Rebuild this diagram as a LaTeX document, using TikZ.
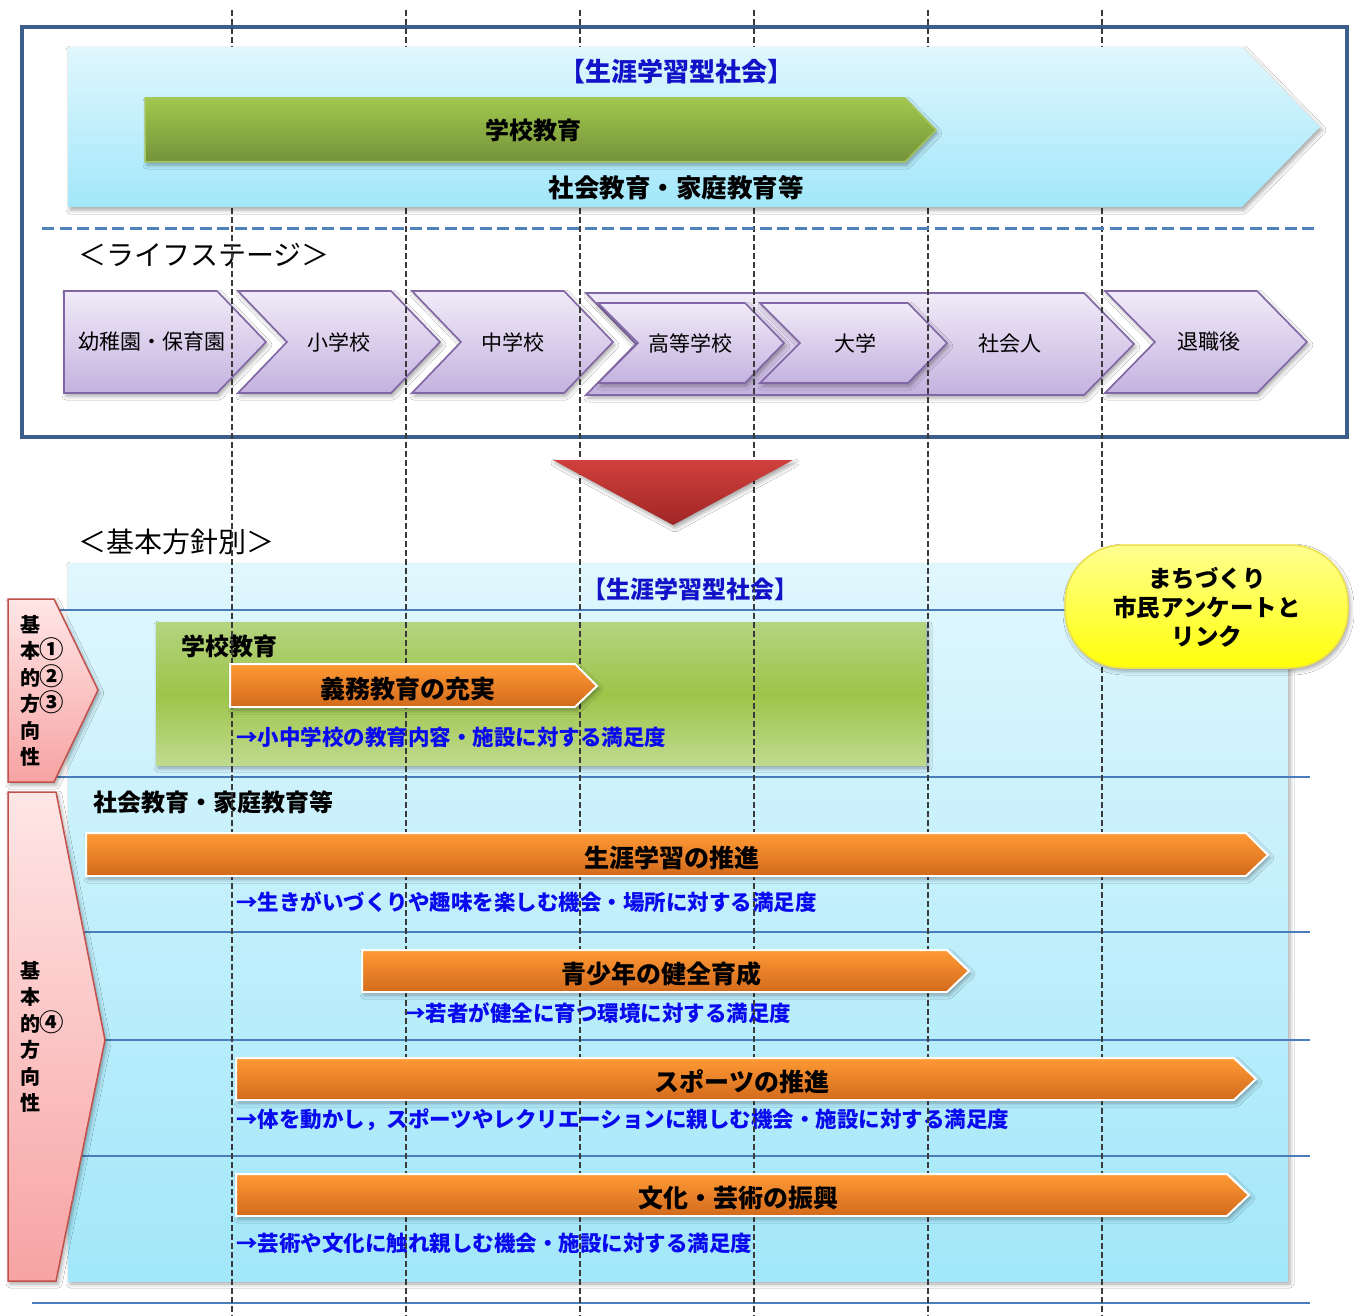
\documentclass[tikz,border=0pt]{standalone}
\usepackage{fontspec}
\newfontfamily\jp{Noto Sans CJK JP}
\usetikzlibrary{shadows,shadows.blur}
\newcommand\jfs[1]{\fontsize{#1}{#1}\selectfont}
\newcommand\cnum[1]{\scalebox{1.22}{#1}}
\definecolor{frameblue}{HTML}{3B5E8C}
\definecolor{lbT}{HTML}{E0F7FD}
\definecolor{lbB}{HTML}{A2E7FA}
\definecolor{grT}{HTML}{A2C84E}
\definecolor{grB}{HTML}{74923A}
\definecolor{grE}{HTML}{A6C65E}
\definecolor{gbT}{HTML}{B5D480}
\definecolor{gbM}{HTML}{9DC449}
\definecolor{gbB}{HTML}{C0DA8E}
\definecolor{puT}{HTML}{F0EBF8}
\definecolor{puB}{HTML}{C4B2DF}
\definecolor{puE}{HTML}{8066A4}
\definecolor{orT}{HTML}{FF9A35}
\definecolor{orB}{HTML}{D26A1C}
\definecolor{pkT}{HTML}{FFE6E6}
\definecolor{pkB}{HTML}{F7A3A3}
\definecolor{pkE}{HTML}{C4504C}
\definecolor{ylT}{HTML}{FFFF90}
\definecolor{ylB}{HTML}{FFFF0A}
\definecolor{ylE}{HTML}{EDE04A}
\definecolor{rdT}{HTML}{D0403C}
\definecolor{rdB}{HTML}{A02626}
\definecolor{lineblue}{HTML}{4A7EBB}
\definecolor{dashblue}{HTML}{4F81BD}
\definecolor{headblue}{HTML}{1212C8}
\definecolor{txtblue}{HTML}{0A0AEE}
\definecolor{vgray}{HTML}{3A3A3A}
\tikzset{
  base/.style={inner sep=0pt, outer sep=0pt},
  lifelbl/.style={base, font=\jp\jfs{21}},
  headlbl/.style={base, anchor=west, font=\jp\jfs{28}},
  boldlbl/.style={base, font=\jp\bfseries\jfs{24}},
  bluehead/.style={base, text=headblue, font=\jp\bfseries\jfs{24}},
  bluetxt/.style={base, anchor=west, text=txtblue, font=\jp\bfseries\jfs{21.5}},
  arrlbl/.style={base, font=\jp\bfseries\jfs{25}},
  pinklbl/.style={base, anchor=west, align=left, font=\jp\bfseries\fontsize{20}{26.5}\selectfont},
  yellbl/.style={base, align=center, font=\jp\bfseries\fontsize{23.5}{29}\selectfont},
  softshadow/.style={blur shadow={shadow xshift=2pt, shadow yshift=-3pt, shadow blur radius=4pt, shadow opacity=35}},
  purplearr/.style={top color=puT, bottom color=puB, draw=puE, line width=1.6pt, softshadow},
  orangearr/.style={top color=orT, bottom color=orB, draw=white, line width=2pt, softshadow},
  pinkarr/.style={top color=pkT, bottom color=pkB, draw=pkE, line width=1.5pt, softshadow},
  lbpanel/.style={top color=lbT, bottom color=lbB, softshadow},
  hline/.style={draw=lineblue, line width=2pt},
  vdash/.style={draw=vgray, line width=1.3pt, dash pattern=on 6pt off 3pt},
}
\begin{document}
\begin{tikzpicture}[x=1pt,y=-1pt]
\useasboundingbox (0,0) rectangle (1354,1316);
\fill[white] (0,0) rectangle (1354,1316);

% ---- top frame
\draw[frameblue, line width=4pt] (22,27) rectangle (1347,437);

% ---- life stages
\path[purplearr] (64,291) -- (217,291) -- (266,342) -- (217,393) -- (64,393) -- cycle;
\path[purplearr] (238,291) -- (391,291) -- (440,342) -- (391,393) -- (238,393) -- (287,342) -- cycle;
\path[purplearr] (412,291) -- (564,291) -- (613,342) -- (564,393) -- (412,393) -- (461,342) -- cycle;
\path[purplearr] (586,293) -- (1084,293) -- (1134,344) -- (1084,395) -- (586,395) -- (636,344) -- cycle;
\path[purplearr] (598,303) -- (745,303) -- (784,343) -- (745,383) -- (598,383) -- (638,343) -- cycle;
\path[purplearr] (760,303) -- (908,303) -- (947,343) -- (908,383) -- (760,383) -- (800,343) -- cycle;
\path[purplearr] (1105,291) -- (1257,291) -- (1307,342) -- (1257,393) -- (1105,393) -- (1155,342) -- cycle;
\node[lifelbl] (s1) at (152,342) {幼稚園・保育園};
\node[lifelbl] (s2) at (339,342) {小学校};
\node[lifelbl] (s3) at (513,342) {中学校};
\node[lifelbl] (s4) at (690,343) {高等学校};
\node[lifelbl] (s5) at (855,343) {大学};
\node[lifelbl] (s6) at (1010,344) {社会人};
\node[lifelbl] (s7) at (1209,342) {退職後};
\node[headlbl] (lifehead) at (78,255) {＜ライフステージ＞};

% ---- lower panel
\node[headlbl] (policyhead) at (78,542) {＜基本方針別＞};
\path[lbpanel] (68,563) rectangle (1288,1281);
\path[top color=gbT, bottom color=gbB, middle color=gbM, softshadow] (156,622) rectangle (926,765);
\draw[hline] (40,610) -- (1100,610);
\draw[hline] (40,777) -- (1310,777);
\draw[hline] (40,932) -- (1310,932);
\draw[hline] (40,1040) -- (1310,1040);
\draw[hline] (40,1156) -- (1310,1156);
\draw[hline] (32,1303) -- (1310,1303);
\path[pinkarr] (8,599) -- (54,599) -- (98,690) -- (54,782) -- (8,782) -- cycle;
\path[pinkarr] (8,792) -- (56,792) -- (105,1040) -- (56,1281) -- (8,1281) -- cycle;
\node[pinklbl] (pk1) at (20,691) {基\\本\cnum{①}\\的\cnum{②}\\方\cnum{③}\\向\\性};
\node[pinklbl] (pk2) at (20,1037) {基\\本\\的\cnum{④}\\方\\向\\性};

\node[bluehead] (lowsoc) at (690,589) {【生涯学習型社会】};
\node[boldlbl, anchor=west] (lowsch) at (181,646) {学校教育};
\node[bluetxt] (t1) at (236,737) {→小中学校の教育内容・施設に対する満足度};
\node[boldlbl, anchor=west] (lowsocedu) at (93,802) {社会教育・家庭教育等};
\node[bluetxt] (t2) at (236,902) {→生きがいづくりや趣味を楽しむ機会・場所に対する満足度};
\node[bluetxt] (t3) at (404,1013) {→若者が健全に育つ環境に対する満足度};
\node[bluetxt] (t4) at (236,1120) {→体を動かし，スポーツやレクリエーションに親しむ機会・施設に対する満足度};
\node[bluetxt] (t5) at (236,1243) {→芸術や文化に触れ親しむ機会・施設に対する満足度};

% ---- vertical dashed guides
\foreach \gx in {232,406,580,754,928,1102}
  \draw[vdash] (\gx,10) -- (\gx,1316);

% ---- top lifelong arrow
\path[lbpanel] (68,47) -- (1242,47) -- (1320,127) -- (1242,207) -- (68,207) -- cycle;
\path[top color=grT, bottom color=grB, draw=grE, line width=1.5pt, softshadow] (145,98) -- (905,98) -- (936,130) -- (905,162) -- (145,162) -- cycle;
\node[bluehead, font=\jp\bfseries\jfs{26}] (topsoc) at (676,72) {【生涯学習型社会】};
\node[boldlbl] (topsch) at (533,130) {学校教育};
\node[boldlbl, font=\jp\bfseries\jfs{25.5}] (topsocedu) at (676,188) {社会教育・家庭教育等};
\draw[draw=dashblue, line width=3pt, dash pattern=on 12pt off 5.5pt] (42,228) -- (1316,228);

% ---- red down arrow
\path[top color=rdT, bottom color=rdB, softshadow] (553,460) -- (793,460) -- (673,525) -- cycle;

% ---- orange arrows
\path[orangearr] (230,664) -- (575,664) -- (597,686) -- (575,707) -- (230,707) -- cycle;
\node[arrlbl] (a1) at (408,689) {義務教育の充実};
\path[orangearr] (86,833) -- (1246,833) -- (1268,855) -- (1246,876) -- (86,876) -- cycle;
\node[arrlbl] (a2) at (672,858) {生涯学習の推進};
\path[orangearr] (362,950) -- (947,950) -- (969,971) -- (947,992) -- (362,992) -- cycle;
\node[arrlbl] (a3) at (661,974) {青少年の健全育成};
\path[orangearr] (236,1058) -- (1234,1058) -- (1256,1079) -- (1234,1100) -- (236,1100) -- cycle;
\node[arrlbl] (a4) at (742,1082) {スポーツの推進};
\path[orangearr] (236,1174) -- (1227,1174) -- (1249,1195) -- (1227,1216) -- (236,1216) -- cycle;
\node[arrlbl] (a5) at (738,1198) {文化・芸術の振興};

% ---- yellow badge
\path[top color=ylT, bottom color=ylB, draw=ylE, line width=1.5pt, rounded corners=58pt, softshadow] (1065,545) rectangle (1348,668);
\node[yellbl] (badge) at (1207,607) {まちづくり\\市民アンケートと\\リンク};
\end{tikzpicture}
\end{document}
